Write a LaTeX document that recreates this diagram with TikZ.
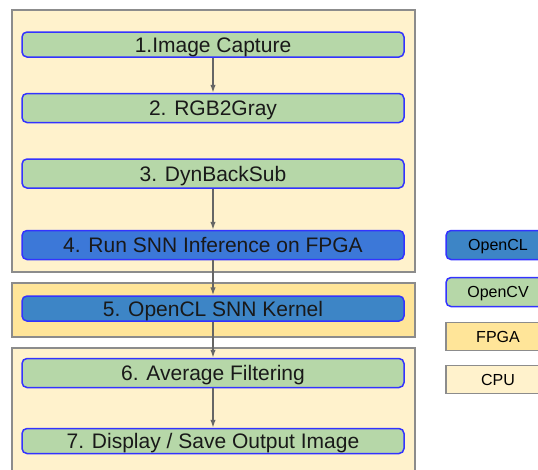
\documentclass[tikz,border=0pt]{standalone}
\usepackage{fontspec}
\setmainfont{Liberation Sans}
\usetikzlibrary{arrows.meta,positioning}

\definecolor{cpufill}{HTML}{FFF2CC}
\definecolor{fpgafill}{HTML}{FFE599}
\definecolor{cvgreen}{HTML}{B6D7A8}
\definecolor{runblue}{HTML}{3C78D8}
\definecolor{clblue}{HTML}{3D85C6}
\definecolor{edgeblue}{HTML}{3333FF}
\definecolor{framegray}{HTML}{8C8C8C}
\definecolor{arrowgray}{HTML}{666666}

\begin{document}
\begin{tikzpicture}[
    x=1pt, y=1pt,
    >={Latex[length=8pt,width=5.5pt]},
    font=\fontsize{21}{25}\selectfont,
    panel/.style={draw=framegray, line width=1.5pt},
    stepgreen/.style={draw=edgeblue, line width=1.5pt, rounded corners=5pt, fill=cvgreen, minimum width=382pt, text=black!90, text height=18pt, text depth=3pt, inner sep=1pt},
    steprun/.style={stepgreen, fill=runblue},
    stepcl/.style={stepgreen, fill=clblue},
    keyround/.style={draw=edgeblue, line width=1.5pt, rounded corners=5pt, minimum width=104pt, font=\fontsize{16}{19}\selectfont, text height=14pt, text depth=2.5pt, inner sep=1pt},
    keyplain/.style={keyround, draw=framegray, rounded corners=0pt},
    flow/.style={->, line width=1.4pt, draw=arrowgray}
]
\useasboundingbox (0,0) rectangle (538,-469);
\clip (0,0) rectangle (538,-469);
\fill[white] (0,0) rectangle (538,-469);

% Platform panels
\draw[panel, fill=cpufill] (12,-10) rectangle (415,-272);
\draw[panel, fill=fpgafill] (12,-283) rectangle (415,-337);
\draw[panel, fill=cpufill] (12,-348) rectangle (415,-475);

% Processing steps
\node[stepgreen, minimum height=25pt] (capture) at (213,-44.5) {1.Image Capture};
\node[stepgreen, minimum height=29pt] (gray) at (213,-108) {2. RGB2Gray};
\node[stepgreen, minimum height=29pt] (backsub) at (213,-173.5) {3. DynBackSub};
\node[steprun, minimum height=29pt] (runsnn) at (213,-245) {4. Run SNN Inference on FPGA};
\node[stepcl, minimum height=25pt] (kernel) at (213,-308.5) {5. OpenCL SNN Kernel};
\node[stepgreen, minimum height=29pt] (avgfilt) at (213,-373) {6. Average Filtering};
\node[stepgreen, minimum height=25pt] (display) at (213,-441) {7. Display / Save Output Image};

\draw[flow] (capture) -- (gray);
\draw[flow] (backsub) -- (runsnn);
\draw[flow] (runsnn) -- (kernel);
\draw[flow] (kernel) -- (avgfilt);
\draw[flow] (avgfilt) -- (display);

% Legend
\node[keyround, fill=clblue, minimum height=29pt] (keycl) at (498,-245) {OpenCL};
\node[keyround, fill=cvgreen, minimum height=29pt] (keycv) at (498,-292) {OpenCV};
\node[keyplain, fill=fpgafill, minimum height=28pt] (keyfpga) at (498,-336.5) {FPGA};
\node[keyplain, fill=cpufill, minimum height=28pt] (keycpu) at (498,-379.5) {CPU};

\end{tikzpicture}
\end{document}
